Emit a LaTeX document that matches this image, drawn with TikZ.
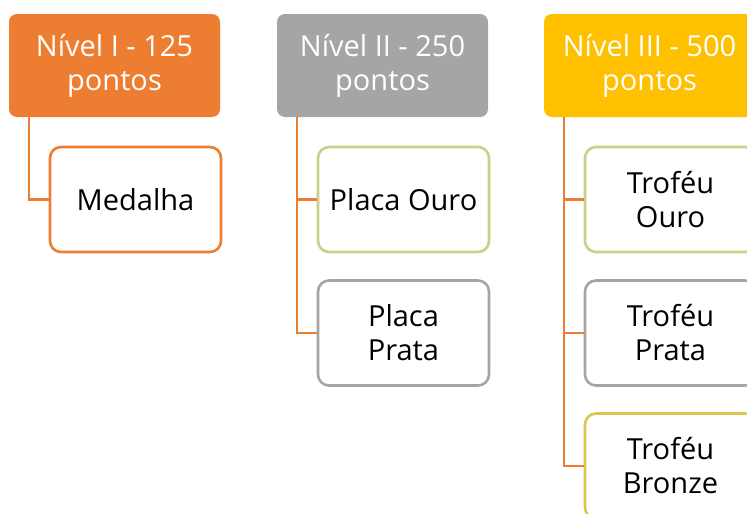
\documentclass[tikz,border=0pt]{standalone}
\usepackage{fontspec}
\setmainfont{Open Sans}
\definecolor{lvlorange}{HTML}{ED7D31}
\definecolor{lvlgray}{HTML}{A5A5A5}
\definecolor{lvlgold}{HTML}{FFC000}
\definecolor{boxkhaki}{HTML}{CDCD8C}
\definecolor{boxbronze}{HTML}{D9C84C}
\tikzset{
    lvl/.style={rectangle, rounded corners=8pt, minimum width=211pt, minimum height=103pt,
        align=center, text=white, font=\fontsize{29}{34}\selectfont, inner sep=0pt},
    prize/.style={rectangle, rounded corners=11pt, draw, line width=2.6pt, fill=white,
        minimum width=171pt, minimum height=105pt, align=center,
        font=\fontsize{29}{34}\selectfont, inner sep=0pt},
    conn/.style={draw=lvlorange, line width=2.6pt}
}
\begin{document}
\begin{tikzpicture}[x=1pt,y=-1pt]
            \useasboundingbox (0,0) rectangle (747,514);
            \node[lvl, fill=lvlorange] (nivelA) at (114.5,65.5) {Nível I - 125\\pontos};
            \node[lvl, fill=lvlgray] (nivelB) at (382.5,65.5) {Nível II - 250\\pontos};
            \node[lvl, fill=lvlgold] (nivelC) at (649.5,65.5) {Nível III - 500\\pontos};

            \node[prize, draw=lvlorange] (medalha) at (135.5,199.5) {Medalha};
            \node[prize, draw=boxkhaki] (placaOuro) at (403.5,199.5) {Placa Ouro};
            \node[prize, draw=lvlgray] (placaPrata) at (403.5,333) {Placa\\Prata};
            \node[prize, draw=boxkhaki] (trofeuOuro) at (670.5,199.5) {Troféu\\Ouro};
            \node[prize, draw=lvlgray] (trofeuPrata) at (670.5,333) {Troféu\\Prata};
            \node[prize, draw=boxbronze] (trofeuBronze) at (670.5,466) {Troféu\\Bronze};

            \draw[conn] ([xshift=20pt]nivelA.south west) |- (medalha.west);
            \draw[conn] ([xshift=20pt]nivelB.south west) |- (placaOuro.west);
            \draw[conn] ([xshift=20pt]nivelB.south west) |- (placaPrata.west);
            \draw[conn] ([xshift=20pt]nivelC.south west) |- (trofeuOuro.west);
            \draw[conn] ([xshift=20pt]nivelC.south west) |- (trofeuPrata.west);
            \draw[conn] ([xshift=20pt]nivelC.south west) |- (trofeuBronze.west);
        \end{tikzpicture}
\end{document}
